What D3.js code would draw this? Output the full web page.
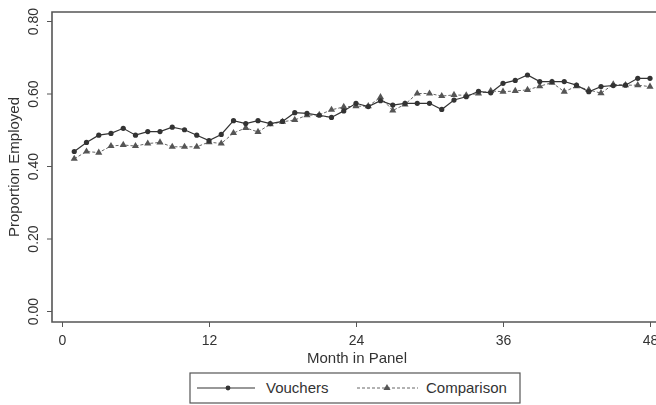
<!DOCTYPE html>
<html>
<head>
<meta charset="utf-8">
<script src="https://cdn.jsdelivr.net/npm/d3@7"></script>
<style>
  body { margin: 0; background: #fff; }
  svg { display: block; font-family: "Liberation Sans", Arial, sans-serif; filter: blur(0.45px); }
</style>
</head>
<body>
<svg id="chart" width="656" height="405"></svg>
<script>
// months 1..48
let months = d3.range(1, 49);
let vouchers = [0.44, 0.465, 0.485, 0.49, 0.504, 0.485, 0.495, 0.495, 0.507, 0.50, 0.485, 0.47,
  0.487, 0.525, 0.517, 0.525, 0.517, 0.523, 0.547, 0.545, 0.54, 0.534, 0.552, 0.573,
  0.564, 0.58, 0.568, 0.573, 0.573, 0.573, 0.556, 0.582, 0.591, 0.606, 0.602, 0.628,
  0.636, 0.651, 0.633, 0.633, 0.633, 0.623, 0.605, 0.619, 0.622, 0.623, 0.642, 0.642];
let comparison = [0.42, 0.44, 0.437, 0.455, 0.458, 0.455, 0.462, 0.465, 0.453, 0.453, 0.453, 0.466,
  0.462, 0.491, 0.505, 0.494, 0.515, 0.522, 0.527, 0.54, 0.541, 0.555, 0.563, 0.565,
  0.565, 0.59, 0.553, 0.57, 0.6, 0.6, 0.593, 0.596, 0.595, 0.6, 0.607, 0.605,
  0.607, 0.61, 0.62, 0.63, 0.605, 0.62, 0.61, 0.601, 0.625, 0.623, 0.623, 0.619];
let xTicks = [0, 12, 24, 36, 48];
let yTicks = [0, 0.2, 0.4, 0.6, 0.8];

let svg = d3.select("#chart");
let plotLeft = 52, plotTop = 12, plotRight = 656, plotBottom = 322;

// Scales:
let x = d3.scaleLinear().domain([0, 48]).range([62, 650]);
let y = d3.scaleLinear().domain([0, 0.8]).range([311, 21]);

// plot frame (left, top, bottom)
svg.append("path")
  .attr("d", `M${plotRight},${plotTop}H${plotLeft}V${plotBottom}H${plotRight}`)
  .attr("fill", "none")
  .attr("stroke", "#555")
  .attr("stroke-width", 1.6);

// Axes:
let yAxis = svg.append("g")
  .attr("transform", `translate(${plotLeft},0)`)
  .call(d3.axisLeft(y).tickValues(yTicks).tickSize(5).tickFormat(d3.format(".2f")));
yAxis.select(".domain").remove();
yAxis.selectAll("line").attr("stroke", "#555");
// tick labels turned upright like the original
yAxis.selectAll("text")
  .attr("transform", "rotate(-90, -19, 0)")
  .attr("x", -19)
  .attr("y", 0)
  .attr("dy", "0.35em")
  .attr("text-anchor", "middle")
  .attr("font-size", 14)
  .attr("fill", "#333");

let xAxis = svg.append("g")
  .attr("transform", `translate(0,${plotBottom})`)
  .call(d3.axisBottom(x).tickValues(xTicks).tickSize(5));
xAxis.select(".domain").remove();
xAxis.selectAll("line").attr("stroke", "#555");
xAxis.selectAll("text").attr("font-size", 14).attr("fill", "#333").attr("dy", "1.05em");

// titles
svg.append("text")
  .attr("x", 357).attr("y", 363)
  .attr("text-anchor", "middle")
  .attr("font-size", 15)
  .attr("fill", "#333")
  .text("Month in Panel");

svg.append("text")
  .attr("transform", `rotate(-90) translate(${-167}, 19)`)
  .attr("text-anchor", "middle")
  .attr("font-size", 15)
  .attr("fill", "#333")
  .text("Proportion Employed");

let line = d3.line().x((d, i) => x(months[i])).y(d => y(d));
let triangle = d3.symbol().type(d3.symbolTriangle).size(22);

// comparison series (dashed, triangles)
svg.append("path")
  .datum(comparison)
  .attr("d", line)
  .attr("fill", "none")
  .attr("stroke", "#666")
  .attr("stroke-width", 1)
  .attr("stroke-dasharray", "3,2");
svg.selectAll(".tri")
  .data(comparison)
  .enter()
  .append("path")
  .attr("class", "tri")
  .attr("d", triangle)
  .attr("transform", (d, i) => `translate(${x(months[i])},${y(d)})`)
  .attr("fill", "#555");

// vouchers series (solid, dots)
svg.append("path")
  .datum(vouchers)
  .attr("d", line)
  .attr("fill", "none")
  .attr("stroke", "#333")
  .attr("stroke-width", 1.2);
svg.selectAll(".dot")
  .data(vouchers)
  .enter()
  .append("circle")
  .attr("class", "dot")
  .attr("cx", (d, i) => x(months[i]))
  .attr("cy", d => y(d))
  .attr("r", 2.6)
  .attr("fill", "#333");

// legend
let legend = svg.append("g");
legend.append("rect")
  .attr("x", 190).attr("y", 373)
  .attr("width", 330).attr("height", 30)
  .attr("fill", "#fff")
  .attr("stroke", "#555")
  .attr("stroke-width", 1.2);
legend.append("line")
  .attr("x1", 197).attr("x2", 255).attr("y1", 388).attr("y2", 388)
  .attr("stroke", "#333").attr("stroke-width", 1.2);
legend.append("circle")
  .attr("cx", 228).attr("cy", 388).attr("r", 2.4).attr("fill", "#333");
legend.append("text")
  .attr("x", 266).attr("y", 393)
  .attr("font-size", 15).attr("fill", "#333")
  .text("Vouchers");
legend.append("line")
  .attr("x1", 357).attr("x2", 418).attr("y1", 388).attr("y2", 388)
  .attr("stroke", "#666").attr("stroke-width", 1).attr("stroke-dasharray", "3,2");
legend.append("path")
  .attr("d", triangle)
  .attr("transform", "translate(387,388)")
  .attr("fill", "#555");
legend.append("text")
  .attr("x", 426).attr("y", 393)
  .attr("font-size", 15).attr("fill", "#333")
  .text("Comparison");
</script>
</body>
</html>
